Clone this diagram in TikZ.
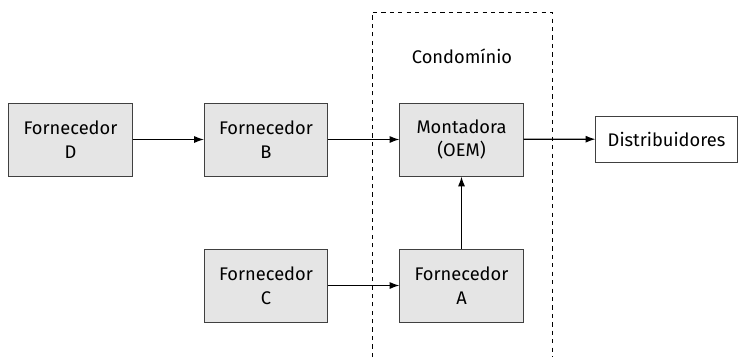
\documentclass[tikz,border=0pt]{standalone}
\usepackage{fontspec}
\setmainfont{Fira Sans}
\usetikzlibrary{arrows.meta}

\begin{document}
\begin{tikzpicture}[x=0.025cm,y=-0.025cm,
    supplier/.style={draw=black!75,fill=black!10,line width=0.7pt,minimum width=3.075cm,minimum height=1.825cm,align=center,font=\fontsize{13}{17}\selectfont,inner sep=0pt},
    flow/.style={line width=0.9pt,-{Latex[length=7pt,width=5pt]}}]
        \useasboundingbox (0,0) rectangle (738,357);
        % condominio area
        \draw[dashed,line width=0.6pt] (372,357) -- (372,12) -- (552,12) -- (552,357);
        \node[font=\fontsize{13}{17}\selectfont] (cond) at (462,56) {Condomínio};
        % boxes
        \node[supplier] (fornD) at (70.5,139.5) {Fornecedor\\D};
        \node[supplier] (fornB) at (266,139.5) {Fornecedor\\B};
        \node[supplier] (oem) at (461.5,139.5) {Montadora\\(OEM)};
        \node[supplier] (fornC) at (266,285.5) {Fornecedor\\C};
        \node[supplier] (fornA) at (461.5,285.5) {Fornecedor\\A};
        \node[supplier,fill=white,minimum width=3.525cm,minimum height=1.15cm] (dist) at (666.5,139) {Distribuidores};
        % arrows
        \draw[flow] (fornD) -- (fornB);
        \draw[flow] (fornB) -- (oem);
        \draw[flow] (oem) -- (dist);
        \draw[flow] (fornC) -- (fornA);
        \draw[flow] (fornA) -- (oem);
    \end{tikzpicture}
\end{document}
